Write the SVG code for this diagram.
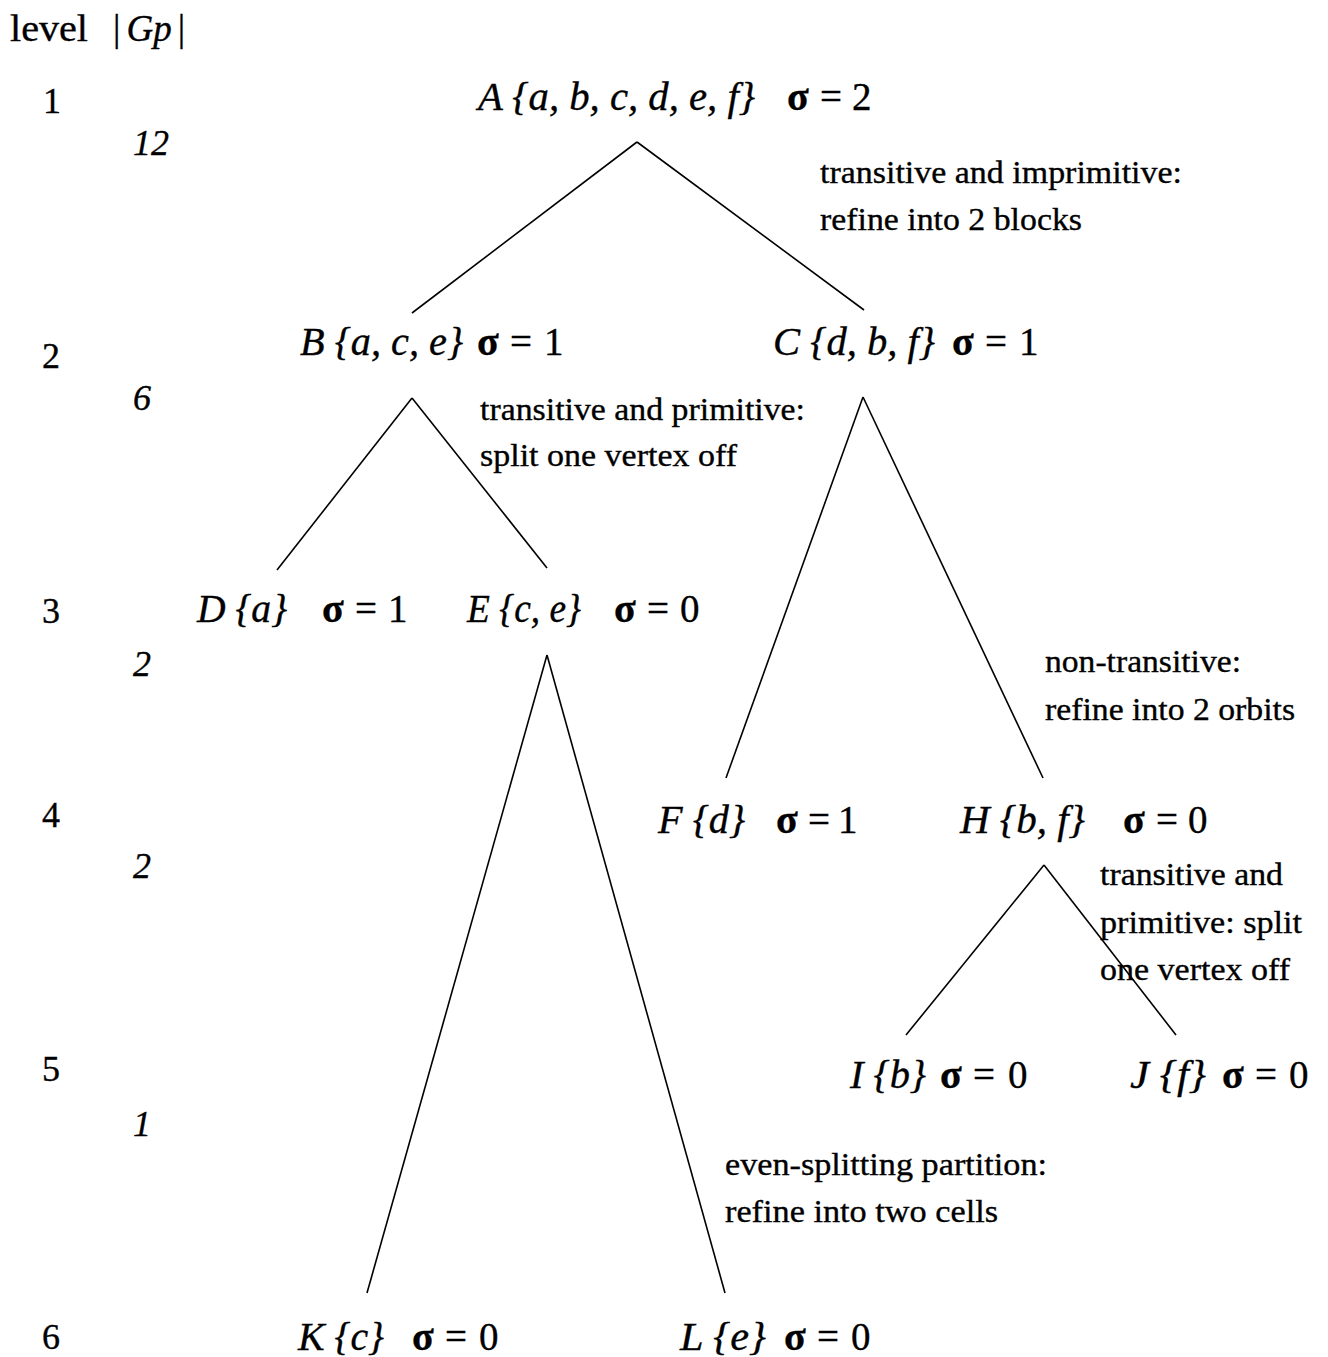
<svg xmlns="http://www.w3.org/2000/svg" width="1328" height="1357" viewBox="0 0 1328 1357">
<style>
text{font-family:"Liberation Serif","Times New Roman",serif;fill:#000;stroke:#000;stroke-width:0.35}
.nm{font-style:italic;font-size:39px}
.sg{font-size:39px}
.b{font-weight:bold;font-size:40px}
.lv{font-size:36px}
.gp{font-size:36px;font-style:italic}
.an{font-size:32px}
.hd{font-size:37px}
.conn line{stroke:#000;stroke-width:1.6;fill:none}
</style>
<rect width="1328" height="1357" fill="#fff"/>
<g id="header">
<text class="hd" x="10" y="41" textLength="78" lengthAdjust="spacingAndGlyphs">level</text>
<text class="hd" x="113" y="41">|<tspan font-style="italic" dx="6">Gp</tspan><tspan dx="6">|</tspan></text>
</g>
<g id="levels">
<text class="lv" x="43" y="113">1</text>
<text class="lv" x="42" y="368">2</text>
<text class="lv" x="42" y="623">3</text>
<text class="lv" x="42" y="827">4</text>
<text class="lv" x="42" y="1081">5</text>
<text class="lv" x="42" y="1349">6</text>
<text class="gp" x="133" y="155">12</text>
<text class="gp" x="133" y="410">6</text>
<text class="gp" x="133" y="676">2</text>
<text class="gp" x="133" y="878">2</text>
<text class="gp" x="133" y="1136">1</text>
</g>
<g class="conn" id="connectors">
<line x1="637" y1="142" x2="412" y2="313"/>
<line x1="637" y1="142" x2="864" y2="310"/>
<line x1="412" y1="398" x2="277" y2="570"/>
<line x1="412" y1="398" x2="547" y2="568"/>
<line x1="863" y1="397" x2="726" y2="778"/>
<line x1="863" y1="397" x2="1043" y2="778"/>
<line x1="547" y1="655" x2="367" y2="1293"/>
<line x1="547" y1="655" x2="725" y2="1293"/>
<line x1="1044" y1="865" x2="906" y2="1035"/>
<line x1="1044" y1="865" x2="1176" y2="1035"/>
</g>
<g id="nodeA">
<text class="nm" x="478" y="110" textLength="277" lengthAdjust="spacingAndGlyphs">A {a, b, c, d, e, f}</text>
<text class="b" x="787" y="110">σ</text><text class="sg" x="820" y="110">=</text><text class="sg" x="852" y="110">2</text>
</g>
<g id="nodeB">
<text class="nm" x="300" y="355" textLength="163" lengthAdjust="spacingAndGlyphs">B {a, c, e}</text>
<text class="b" x="477" y="355">σ</text><text class="sg" x="510" y="355">=</text><text class="sg" x="544" y="355">1</text>
</g>
<g id="nodeC">
<text class="nm" x="773" y="355" textLength="162" lengthAdjust="spacingAndGlyphs">C {d, b, f}</text>
<text class="b" x="952" y="355">σ</text><text class="sg" x="985" y="355">=</text><text class="sg" x="1019" y="355">1</text>
</g>
<g id="nodeD">
<text class="nm" x="197" y="622" textLength="90" lengthAdjust="spacingAndGlyphs">D {a}</text>
<text class="b" x="322" y="622">σ</text><text class="sg" x="355" y="622">=</text><text class="sg" x="388" y="622">1</text>
</g>
<g id="nodeE">
<text class="nm" x="467" y="622" textLength="114" lengthAdjust="spacingAndGlyphs">E {c, e}</text>
<text class="b" x="614" y="622">σ</text><text class="sg" x="647" y="622">=</text><text class="sg" x="680" y="622">0</text>
</g>
<g id="nodeF">
<text class="nm" x="658" y="833" textLength="87" lengthAdjust="spacingAndGlyphs">F {d}</text>
<text class="b" x="776" y="833">σ</text><text class="sg" x="808" y="833">=</text><text class="sg" x="838" y="833">1</text>
</g>
<g id="nodeH">
<text class="nm" x="960" y="833" textLength="125" lengthAdjust="spacingAndGlyphs">H {b, f}</text>
<text class="b" x="1123" y="833">σ</text><text class="sg" x="1156" y="833">=</text><text class="sg" x="1188" y="833">0</text>
</g>
<g id="nodeI">
<text class="nm" x="850" y="1088" textLength="76" lengthAdjust="spacingAndGlyphs">I {b}</text>
<text class="b" x="940" y="1088">σ</text><text class="sg" x="973" y="1088">=</text><text class="sg" x="1008" y="1088">0</text>
</g>
<g id="nodeJ">
<text class="nm" x="1130" y="1088" textLength="76" lengthAdjust="spacingAndGlyphs">J {f}</text>
<text class="b" x="1222" y="1088">σ</text><text class="sg" x="1255" y="1088">=</text><text class="sg" x="1289" y="1088">0</text>
</g>
<g id="nodeK">
<text class="nm" x="298" y="1350" textLength="86" lengthAdjust="spacingAndGlyphs">K {c}</text>
<text class="b" x="412" y="1350">σ</text><text class="sg" x="445" y="1350">=</text><text class="sg" x="479" y="1350">0</text>
</g>
<g id="nodeL">
<text class="nm" x="680" y="1350" textLength="86" lengthAdjust="spacingAndGlyphs">L {e}</text>
<text class="b" x="784" y="1350">σ</text><text class="sg" x="817" y="1350">=</text><text class="sg" x="851" y="1350">0</text>
</g>
<g id="annotations">
<text class="an" x="820" y="183" textLength="362" lengthAdjust="spacingAndGlyphs">transitive and imprimitive:</text>
<text class="an" x="820" y="230" textLength="262" lengthAdjust="spacingAndGlyphs">refine into 2 blocks</text>
<text class="an" x="480" y="420" textLength="325" lengthAdjust="spacingAndGlyphs">transitive and primitive:</text>
<text class="an" x="480" y="466" textLength="257" lengthAdjust="spacingAndGlyphs">split one vertex off</text>
<text class="an" x="1045" y="672" textLength="196" lengthAdjust="spacingAndGlyphs">non-transitive:</text>
<text class="an" x="1045" y="720" textLength="250" lengthAdjust="spacingAndGlyphs">refine into 2 orbits</text>
<text class="an" x="1100" y="885" textLength="183" lengthAdjust="spacingAndGlyphs">transitive and</text>
<text class="an" x="1100" y="933" textLength="202" lengthAdjust="spacingAndGlyphs">primitive: split</text>
<text class="an" x="1100" y="980" textLength="190" lengthAdjust="spacingAndGlyphs">one vertex off</text>
<text class="an" x="725" y="1175" textLength="322" lengthAdjust="spacingAndGlyphs">even-splitting partition:</text>
<text class="an" x="725" y="1222" textLength="273" lengthAdjust="spacingAndGlyphs">refine into two cells</text>
</g>
</svg>
